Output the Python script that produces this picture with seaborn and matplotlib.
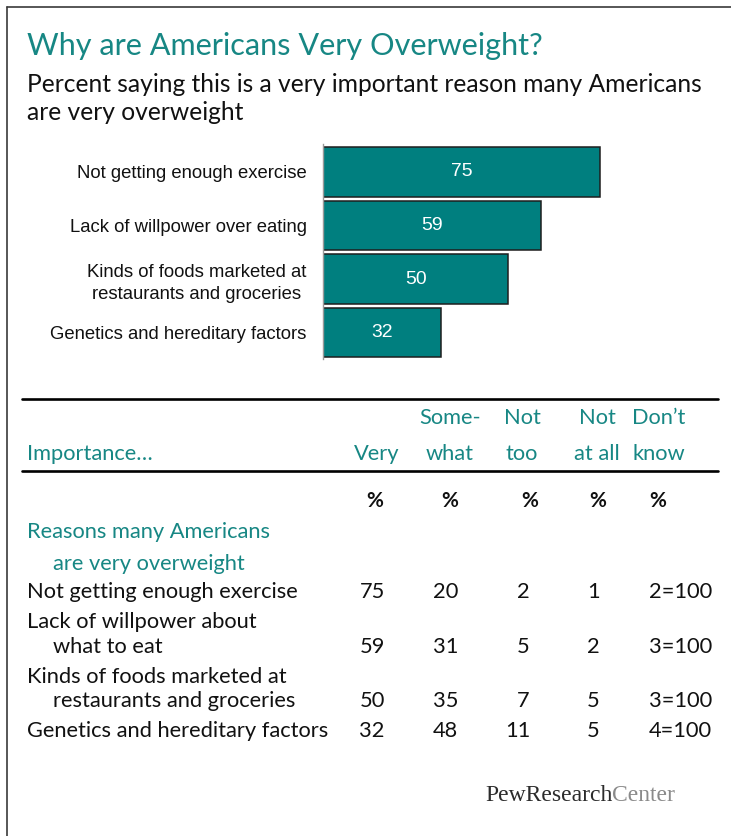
import matplotlib
matplotlib.use("Agg")
import matplotlib.pyplot as plt
from matplotlib.lines import Line2D
import seaborn as sns

# ---- data -------------------------------------------------------------
bar_reasons = [
    "Not getting enough exercise",
    "Lack of willpower over eating",
    "Kinds of foods marketed at\nrestaurants and groceries",
    "Genetics and hereditary factors",
]
table_reasons = [
    ["Not getting enough exercise"],
    ["Lack of willpower about", "what to eat"],
    ["Kinds of foods marketed at", "restaurants and groceries"],
    ["Genetics and hereditary factors"],
]
very = [75, 59, 50, 32]
somewhat = [20, 31, 35, 48]
not_too = [2, 5, 7, 11]
not_at_all = [1, 2, 5, 5]
dont_know = [2, 3, 3, 4]

header_top = ["", "Some-", "Not", "Not", "Don\u2019t"]
header_bottom = ["Very", "what", "too", "at all", "know"]

title = "Why are Americans Very Overweight?"
subtitle = ["Percent saying this is a very important reason many Americans",
            "are very overweight"]

# ---- style ------------------------------------------------------------
sns.set_theme(style="white")
plt.rcParams["font.family"] = ["Lato", "DejaVu Sans"]

TEAL_TEXT = "#178784"
TEAL_BAR = "#007f7f"
W, H = 731, 836

fig = plt.figure(figsize=(W / 100, H / 100), dpi=100)
fig.patch.set_facecolor("white")
renderer = fig.canvas.get_renderer()


def fx(x):
    return x / W


def fy(y):
    return 1 - y / H


def fit_size(s, target_px, **kw):
    t = fig.text(0, 0, s, fontsize=10, **kw)
    w = t.get_window_extent(renderer).width
    t.remove()
    return 10 * target_px / w


def put(x, y, s, **kw):
    kw.setdefault("va", "baseline")
    return fig.text(fx(x), fy(y), s, **kw)


# ---- frame ------------------------------------------------------------
fig.add_artist(Line2D([fx(7), fx(7)], [fy(7), 0], transform=fig.transFigure,
                      color="#3a3a3a", lw=1.2))
fig.add_artist(Line2D([fx(7), 1], [fy(7), fy(7)], transform=fig.transFigure,
                      color="#3a3a3a", lw=1.2))

# ---- title ------------------------------------------------------------
title_size = fit_size(title, 516)
put(27, 55, title, fontsize=title_size, color=TEAL_TEXT)
sub_size = fit_size(subtitle[0], 674)
put(27, 92, subtitle[0], fontsize=sub_size, color="#111111")
put(27, 120, subtitle[1], fontsize=sub_size, color="#111111")

# ---- bar chart --------------------------------------------------------
bar_font = ["Liberation Sans", "DejaVu Sans"]
bar_size = fit_size(bar_reasons[0], 231, family=bar_font)

ax = fig.add_axes([fx(323.3), fy(359), 369 / W, 215 / H])
sns.barplot(x=very, y=bar_reasons, orient="h", color=TEAL_BAR, saturation=1,
            width=0.925, edgecolor="#1e1e1e", linewidth=1.1, ax=ax)
ax.set_xlim(0, 100)
ax.set_ylim(3.495, -0.523)
ax.set_xlabel("")
ax.set_ylabel("")
ax.set_xticks([])
for side in ["top", "right", "bottom"]:
    ax.spines[side].set_visible(False)
ax.spines["left"].set_color("#9a9a9a")
ax.spines["left"].set_linewidth(1.0)
ax.tick_params(axis="y", length=0, pad=12)
for lbl in ax.get_yticklabels():
    lbl.set_fontfamily(bar_font)
    lbl.set_fontsize(bar_size)
    lbl.set_color("#111111")
    lbl.set_multialignment("center")
    lbl.set_linespacing(1.4)
ax.bar_label(ax.containers[0], label_type="center", color="white",
             fontsize=bar_size * 1.05, family=bar_font)
ax.patch.set_alpha(0)

# ---- table ------------------------------------------------------------
for y in (399.3, 471):
    fig.add_artist(Line2D([fx(22), fx(718)], [fy(y), fy(y)],
                          transform=fig.transFigure, color="black", lw=1.9))

tab_size = fit_size(table_reasons[3][0], 302)

head_x = [377, 450, 522, 597, 659]
for x, top, bottom in zip(head_x, header_top, header_bottom):
    if top:
        put(x, 424.3, top, fontsize=tab_size, color=TEAL_TEXT, ha="center")
    put(x, 460, bottom, fontsize=tab_size, color=TEAL_TEXT, ha="center")
put(27, 460, "Importance\u2026", fontsize=tab_size, color=TEAL_TEXT)

pct_x = [375, 450, 530, 598, 658]
for x in pct_x:
    put(x, 506.7, "%", fontsize=tab_size * 0.95, color="#111111",
        ha="center", weight="bold")

put(27, 538.3, "Reasons many Americans", fontsize=tab_size, color=TEAL_TEXT)
put(52.5, 570, "are very overweight", fontsize=tab_size, color=TEAL_TEXT)

row_first = [598, 628, 683, 737]
row_last = [598, 653, 707, 737]
num_right = [385, 458, 530, 600]
for i, lines in enumerate(table_reasons):
    put(27, row_first[i], lines[0], fontsize=tab_size, color="#111111")
    if len(lines) > 1:
        put(52.5, row_last[i], lines[1], fontsize=tab_size, color="#111111")
    for x, col in zip(num_right, [very, somewhat, not_too, not_at_all]):
        put(x, row_last[i], str(col[i]), fontsize=tab_size, color="#111111",
            ha="right")
    put(712, row_last[i], f"{dont_know[i]}=100", fontsize=tab_size,
        color="#111111", ha="right")

# ---- logo -------------------------------------------------------------
logo_font = ["Liberation Serif", "DejaVu Serif"]
logo_size = fit_size("PewResearchCenter", 190, family=logo_font)
t1 = put(485, 801, "PewResearch", fontsize=logo_size, family=logo_font,
         color="#2b2b2b")
w1 = t1.get_window_extent(renderer).width
put(485 + w1, 801, "Center", fontsize=logo_size, family=logo_font,
    color="#8a8a8a")

fig.savefig("out.png", dpi=100)
